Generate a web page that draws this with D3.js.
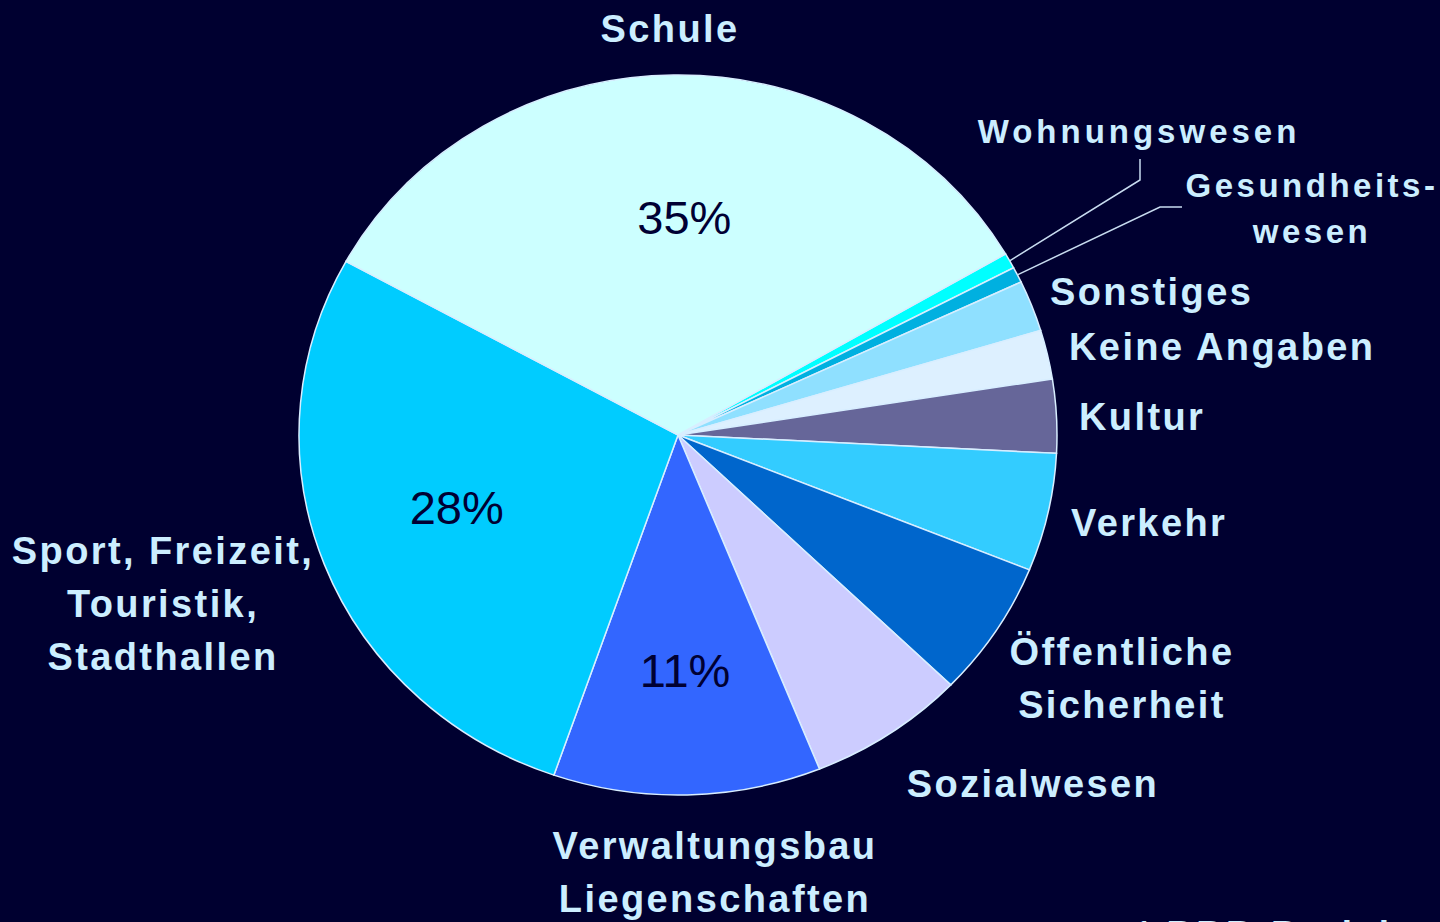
<!DOCTYPE html>
<html>
<head>
<meta charset="utf-8">
<script src="https://cdn.jsdelivr.net/npm/d3@7"></script>
<style>
    html, body { margin: 0; padding: 0; background: #000030; }
    svg text { font-family: "Liberation Sans", Arial, sans-serif; }
</style>
</head>
<body>
<div class="chart"></div>
<script>
// slice order, clockwise from the Schule/Wohnungswesen edge
var categories = ["Wohnungswesen", "Gesundheitswesen", "Sonstiges", "Keine Angaben", "Kultur",
    "Verkehr", "Öffentliche Sicherheit", "Sozialwesen", "Verwaltungsbau Liegenschaften",
    "Sport, Freizeit, Touristik, Stadthallen", "Schule"];
var shares = [0.7, 0.7, 2.3, 2.2, 3.3, 5.3, 6.1, 6.7, 11.4, 27.7, 33.6];
var colors = ["#00ffff", "#00b0e0", "#8fe0ff", "#ddf0ff", "#666699",
    "#33ccff", "#0066cc", "#ccccff", "#3366ff", "#00ccff", "#ccffff"];
var pctLabels = { "Schule": "35%", "Sport, Freizeit, Touristik, Stadthallen": "28%", "Verwaltungsbau Liegenschaften": "11%" };

var labelLines = {
    "Wohnungswesen": ["Wohnungswesen"],
    "Gesundheitswesen": ["Gesundheits-", "wesen"],
    "Sonstiges": ["Sonstiges"],
    "Keine Angaben": ["Keine Angaben"],
    "Kultur": ["Kultur"],
    "Verkehr": ["Verkehr"],
    "Öffentliche Sicherheit": ["Öffentliche", "Sicherheit"],
    "Sozialwesen": ["Sozialwesen"],
    "Verwaltungsbau Liegenschaften": ["Verwaltungsbau", "Liegenschaften"],
    "Sport, Freizeit, Touristik, Stadthallen": ["Sport, Freizeit,", "Touristik,", "Stadthallen"],
    "Schule": ["Schule"]
};

var dim = { width: 1440, height: 922, cx: 678, cy: 435, rx: 379, ry: 360 };

// hand placed label layout (x, first baseline, anchor, size, line gap)
var layout = {
    "Wohnungswesen": { x: 1139, y: 143, anchor: "middle", size: 33, gap: 0, spacing: 4 },
    "Gesundheitswesen": { x: 1312, y: 197, anchor: "middle", size: 33, gap: 46, spacing: 3.5 },
    "Sonstiges": { x: 1050, y: 305, anchor: "start", size: 38, gap: 0 },
    "Keine Angaben": { x: 1069, y: 360, anchor: "start", size: 38, gap: 0 },
    "Kultur": { x: 1079, y: 430, anchor: "start", size: 38, gap: 0 },
    "Verkehr": { x: 1071, y: 536, anchor: "start", size: 38, gap: 0 },
    "Öffentliche Sicherheit": { x: 1122, y: 665, anchor: "middle", size: 38, gap: 53 },
    "Sozialwesen": { x: 1033, y: 797, anchor: "middle", size: 38, gap: 0 },
    "Verwaltungsbau Liegenschaften": { x: 715, y: 859, anchor: "middle", size: 38, gap: 53 },
    "Sport, Freizeit, Touristik, Stadthallen": { x: 163, y: 564, anchor: "middle", size: 38, gap: 53 },
    "Schule": { x: 670, y: 42, anchor: "middle", size: 38, gap: 0 }
};

// nudge of each percent label from its centroid
var pctNudge = {
    "Schule": [9, 15],
    "Sport, Freizeit, Touristik, Stadthallen": [-9, 12],
    "Verwaltungsbau Liegenschaften": [1, 14]
};

// leader line elbows for the two thin slices
var leaders = {
    "Wohnungswesen": [[1140, 180], [1140, 159]],
    "Gesundheitswesen": [[1160, 207], [1182, 207]]
};

var data = categories.map(function(c, i) {
    return { name: c, value: shares[i], color: colors[i] };
});

var start = 59.8 * Math.PI / 180;

var pie = d3.pie()
    .value(function(d) { return d.value; })
    .sort(null)
    .startAngle(start)
    .endAngle(start + 2 * Math.PI);

var arcs = pie(data);

var arc = d3.arc()
    .innerRadius(0)
    .outerRadius(dim.ry);

var sx = dim.rx / dim.ry;

function toScreen(p) {
    return [dim.cx + p[0] * sx, dim.cy + p[1]];
}

var svg = d3.select(".chart").append("svg")
    .attr("width", dim.width)
    .attr("height", dim.height);

svg.append("rect")
    .attr("width", dim.width)
    .attr("height", dim.height)
    .attr("fill", "#000030");

var pieG = svg.append("g")
    .attr("transform", "translate(" + dim.cx + "," + dim.cy + ") scale(" + sx + ",1)");

pieG.selectAll("path.slice")
    .data(arcs)
    .enter()
    .append("path")
    .attr("class", "slice")
    .attr("d", arc)
    .attr("fill", function(d) { return d.data.color; })
    .attr("stroke", "#d8eeff")
    .attr("stroke-width", 1.5)
    .attr("vector-effect", "non-scaling-stroke");

// percent labels inside the big slices
arcs.forEach(function(a) {
    var txt = pctLabels[a.data.name];
    if (!txt) return;
    var mid = (a.startAngle + a.endAngle) / 2;
    var f = a.data.name === "Verwaltungsbau Liegenschaften" ? 0.66 : 0.6;
    var p = toScreen([Math.sin(mid) * dim.ry * f, -Math.cos(mid) * dim.ry * f]);
    var n = pctNudge[a.data.name];
    svg.append("text")
        .attr("x", p[0] + n[0])
        .attr("y", p[1] + n[1])
        .attr("text-anchor", "middle")
        .attr("fill", "#000033")
        .style("font-size", "47px")
        .text(txt);
});

// leader lines
arcs.forEach(function(a) {
    var pts = leaders[a.data.name];
    if (!pts) return;
    var mid = (a.startAngle + a.endAngle) / 2;
    var p0 = toScreen([Math.sin(mid) * dim.ry, -Math.cos(mid) * dim.ry]);
    svg.append("path")
        .attr("d", d3.line()([p0].concat(pts)))
        .attr("fill", "none")
        .attr("stroke", "#c8dcf0")
        .attr("stroke-width", 1.5);
});

// category labels
categories.forEach(function(c) {
    var l = layout[c];
    var t = svg.append("text")
        .attr("text-anchor", l.anchor)
        .attr("fill", "#cceeff")
        .style("font-size", l.size + "px")
        .style("font-weight", "bold")
        .style("letter-spacing", (l.spacing || 2.4) + "px");
    labelLines[c].forEach(function(line, i) {
        t.append("tspan")
            .attr("x", l.x)
            .attr("y", l.y + i * l.gap)
            .text(line);
    });
});

// source note, cut off at the bottom edge
svg.append("text")
    .attr("x", 1138)
    .attr("y", 947)
    .attr("fill", "#cceeff")
    .style("font-size", "37px")
    .style("font-weight", "bold")
    .style("letter-spacing", "3px")
    .text("¹ BBB-Berichte");
</script>
</body>
</html>
